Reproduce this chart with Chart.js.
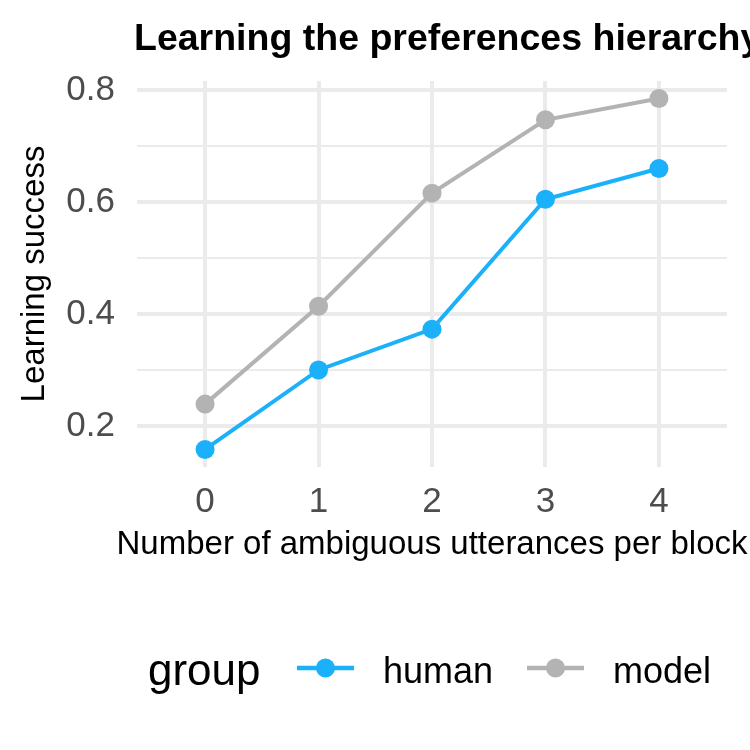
<!DOCTYPE html>
<html>
<head>
<meta charset="utf-8">
<title>Learning the preferences hierarchy</title>
<script src="https://cdn.jsdelivr.net/npm/chart.js@4.4.1/dist/chart.umd.min.js"></script>
<style>
  html, body { margin: 0; padding: 0; background: #fff; }
  #chart { display: block; }
</style>
</head>
<body>
<canvas id="chart" width="750" height="750"></canvas>
<script>
// values
const categories = [0, 1, 2, 3, 4];
const xTickLabels = ['0', '1', '2', '3', '4'];
const humanSuccess = [0.158, 0.300, 0.373, 0.605, 0.660];
const modelSuccess = [0.239, 0.414, 0.616, 0.747, 0.785];
const yMajorTicks = [0.2, 0.4, 0.6, 0.8];
const yTickLabels = ['0.2', '0.4', '0.6', '0.8'];
const yMinorTicks = [0.3, 0.5, 0.7];
const groupNames = ['human', 'model'];

const FONT = "'Liberation Sans', Arial, Helvetica, sans-serif";
const HUMAN_COLOR = '#1BB1FA';
const MODEL_COLOR = '#B3B3B3';
const GRID_COLOR = '#EBEBEB';

// 5% expansion of the y range, the way ggplot pads it
const allValues = humanSuccess.concat(modelSuccess);
const yLo = Math.min(...allValues);
const yHi = Math.max(...allValues);
const yPad = (yHi - yLo) * 0.05;

function toPoints(values) {
    return categories.map((c, i) => ({ x: c, y: values[i] }));
}

// title starts at the panel's left edge; x title is centred on the panel
// and allowed to run wider than it (Chart.js would squeeze it)
const plotTitles = {
    id: 'plotTitles',
    afterDraw(chart) {
        const { ctx, chartArea } = chart;
        ctx.save();
        ctx.fillStyle = '#000';
        ctx.textBaseline = 'alphabetic';
        ctx.textAlign = 'left';
        ctx.font = `bold 37.5px ${FONT}`;
        ctx.fillText('Learning the preferences hierarchy', chartArea.left - 3, 50);
        ctx.textAlign = 'center';
        ctx.font = `33px ${FONT}`;
        ctx.fillText('Number of ambiguous utterances per block',
            (chartArea.left + chartArea.right) / 2, 554);
        ctx.restore();
    }
};

// one-row legend: "group" followed by the keys
const groupLegend = {
    id: 'groupLegend',
    afterDraw(chart) {
        const ctx = chart.ctx;
        const keyY = 668;
        const keyX = [297, 527];
        ctx.save();
        ctx.textAlign = 'left';
        ctx.textBaseline = 'alphabetic';
        ctx.fillStyle = '#000';
        ctx.font = `44px ${FONT}`;
        ctx.fillText('group', 148, 685);
        chart.data.datasets.forEach((ds, i) => {
            const x0 = keyX[i];
            ctx.strokeStyle = ds.borderColor;
            ctx.lineWidth = 4.5;
            ctx.beginPath();
            ctx.moveTo(x0, keyY);
            ctx.lineTo(x0 + 57, keyY);
            ctx.stroke();
            ctx.fillStyle = ds.borderColor;
            ctx.beginPath();
            ctx.arc(x0 + 28.5, keyY, 9.5, 0, Math.PI * 2);
            ctx.fill();
            ctx.fillStyle = '#000';
            ctx.font = `36px ${FONT}`;
            ctx.fillText(ds.label, x0 + 86, 683);
        });
        ctx.restore();
    }
};

const ctx = document.getElementById('chart').getContext('2d');
const myChart = new Chart(ctx, {
    type: 'line',
    data: {
        datasets: [{
            label: groupNames[0],
            data: toPoints(humanSuccess),
            borderColor: HUMAN_COLOR,
            backgroundColor: HUMAN_COLOR,
            borderWidth: 4,
            pointRadius: 9.5,
            pointBorderWidth: 0,
            tension: 0
        }, {
            label: groupNames[1],
            data: toPoints(modelSuccess),
            borderColor: MODEL_COLOR,
            backgroundColor: MODEL_COLOR,
            borderWidth: 4,
            pointRadius: 9.5,
            pointBorderWidth: 0,
            tension: 0
        }]
    },
    options: {
        responsive: false,
        animation: false,
        layout: {
            padding: { left: 0, right: 23, top: 81, bottom: 183 }
        },
        plugins: {
            legend: { display: false },
            title: { display: false },
            tooltip: { enabled: false }
        },
        scales: {
            x: {
                type: 'linear',
                min: categories[0] - 0.6,
                max: categories[categories.length - 1] + 0.6,
                afterBuildTicks: axis => {
                    axis.ticks = categories.map(v => ({ value: v }));
                },
                afterFit: axis => { axis.height = 100; },
                grid: { color: GRID_COLOR, lineWidth: 4, drawTicks: false },
                border: { display: false },
                ticks: {
                    autoSkip: false,
                    maxRotation: 0,
                    padding: 14,
                    color: '#4D4D4D',
                    font: { family: FONT, size: 35 },
                    callback: value => xTickLabels[categories.indexOf(value)]
                },
                title: { display: false }
            },
            y: {
                type: 'linear',
                min: yLo - yPad,
                max: yHi + yPad,
                afterBuildTicks: axis => {
                    axis.ticks = yMajorTicks.concat(yMinorTicks)
                        .sort((a, b) => a - b)
                        .map(v => ({ value: v }));
                },
                afterFit: axis => { axis.width = 137; },
                grid: {
                    color: GRID_COLOR,
                    lineWidth: c => yMajorTicks.includes(c.tick.value) ? 4 : 2,
                    drawTicks: false
                },
                border: { display: false },
                ticks: {
                    autoSkip: false,
                    padding: 22,
                    color: '#4D4D4D',
                    font: { family: FONT, size: 35 },
                    callback: value => {
                        const i = yMajorTicks.indexOf(value);
                        return i >= 0 ? yTickLabels[i] : '';
                    }
                },
                title: {
                    display: true,
                    text: 'Learning success',
                    color: '#000',
                    font: { family: FONT, size: 33 },
                    padding: { top: 15, bottom: 0 }
                }
            }
        }
    },
    plugins: [plotTitles, groupLegend]
});
</script>
</body>
</html>
